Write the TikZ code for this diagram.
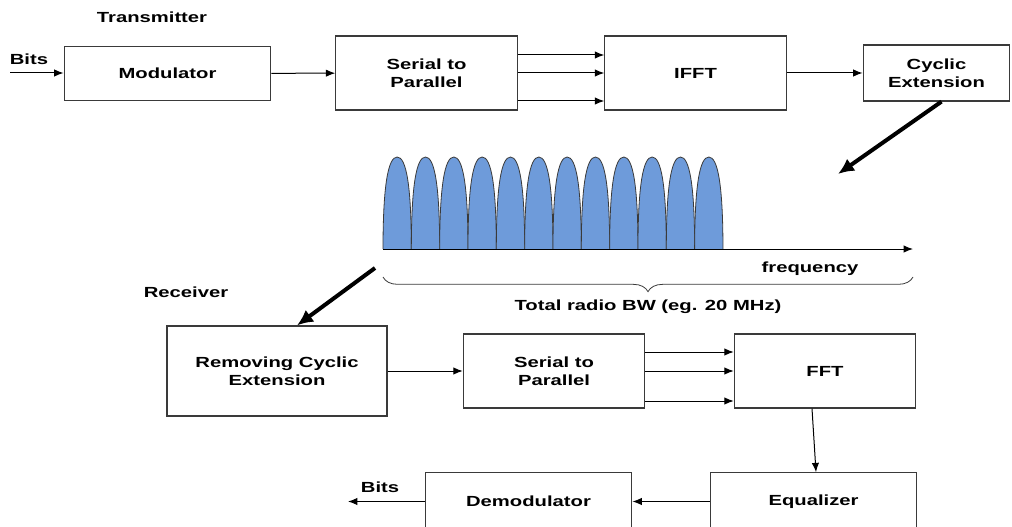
\documentclass[tikz,border=0pt]{standalone}
\usepackage{fontspec}
\setmainfont{Liberation Sans}[FakeStretch=1.38]
\usetikzlibrary{arrows.meta,positioning,calc,decorations.pathreplacing}
\definecolor{lobe}{HTML}{6E9BDA}
\definecolor{edge}{HTML}{3A3A3A}

\tikzset{
  box/.style={draw=edge, line width=0.9pt, fill=white, align=center,
    font=\fontsize{11}{13.5}\selectfont\bfseries},
  lbl/.style={font=\fontsize{11}{13.5}\selectfont\bfseries},
  arr/.style={line width=0.75pt, -{Latex[length=7pt,width=5.5pt]}},
  bigarr/.style={line width=3pt, -{Latex[length=12pt,width=11pt]}},
}

\begin{document}
\begin{tikzpicture}[x=0.75pt,y=-0.75pt]
  \useasboundingbox (0,0) rectangle (1012,527);

  % transmitter
  \node[lbl] (txlbl) at (152,17) {Transmitter};
  \node[lbl] (bitsin) at (29,59) {Bits};
  \coordinate (src) at (10,73);
  \node[box, minimum width=155pt, minimum height=41pt] (mod) at (167.5,73.5) {Modulator};
  \node[box, minimum width=136pt, minimum height=55.5pt] (sptx) at (426.5,73) {Serial to\\Parallel};
  \node[box, minimum width=136pt, minimum height=55.5pt] (ifft) at (695.5,73) {IFFT};
  \node[box, minimum width=110pt, minimum height=42pt] (cyc) at (936.5,73) {Cyclic\\Extension};

  \draw[arr] (src) -- (src -| mod.west);
  \draw[arr] (mod) -- (sptx);
  \foreach \dy in {-18,0,28}
    \draw[arr] ($(sptx.east)+(0,\dy)$) -- ($(ifft.west)+(0,\dy)$);
  \draw[arr] (ifft) -- (cyc);

  % spectrum
  \foreach \i in {0,...,11} {
    \pgfmathsetmacro{\xa}{383+28.33*\i}
    \pgfmathsetmacro{\xm}{\xa+14.17}
    \pgfmathsetmacro{\xb}{\xa+28.33}
    \draw[edge, fill=lobe, line width=0.6pt] (\xa,249) .. controls (\xa,185) and (\xm-9,157) .. (\xm,157)
      .. controls (\xm+9,157) and (\xb,185) .. (\xb,249);
  }
  \coordinate (f0) at (383,249);
  \coordinate (f1) at (913,249);
  \draw[arr] (f0) -- (f1);
  \node[lbl] (freq) at (810,269) {frequency};
  \draw[edge, line width=0.6pt, decorate, decoration={brace, mirror, amplitude=11pt}]
    (383,277) -- (913,277);
  \node[lbl] (bw) at (648,307) {Total radio BW (eg. 20 MHz)};

  \coordinate (specin) at (838,174);
  \coordinate (specout) at (375,268);
  \draw[bigarr] ($(cyc.south)+(5,0)$) -- (specin);

  % receiver
  \node[lbl] (rxlbl) at (186,292) {Receiver};
  \node[box, minimum width=165pt, minimum height=67.5pt] (rce) at (277,371) {Removing Cyclic\\Extension};
  \node[box, minimum width=136pt, minimum height=55.5pt] (sprx) at (554,371) {Serial to\\Parallel};
  \node[box, minimum width=136pt, minimum height=55.5pt] (fft) at (825,371) {FFT};
  \node[box, minimum width=155pt, minimum height=43pt] (eq) at (813.5,501.5) {Equalizer};
  \node[box, minimum width=155pt, minimum height=43pt] (demod) at (528.5,501.5) {Demodulator};
  \node[lbl] (bitsout) at (380,487) {Bits};
  \coordinate (sink) at (348,501.5);

  \draw[bigarr] (specout) -- ($(rce.north)+(20,0)$);
  \draw[arr] (rce) -- (sprx);
  \foreach \dy in {-19,0,30}
    \draw[arr] ($(sprx.east)+(0,\dy)$) -- ($(fft.west)+(0,\dy)$);
  \draw[arr] ($(fft.south)+(-13,0)$) -- ($(eq.north)+(2.5,0)$);
  \draw[arr] (eq) -- (demod);
  \draw[arr] (demod) -- (sink);
\end{tikzpicture}
\end{document}
